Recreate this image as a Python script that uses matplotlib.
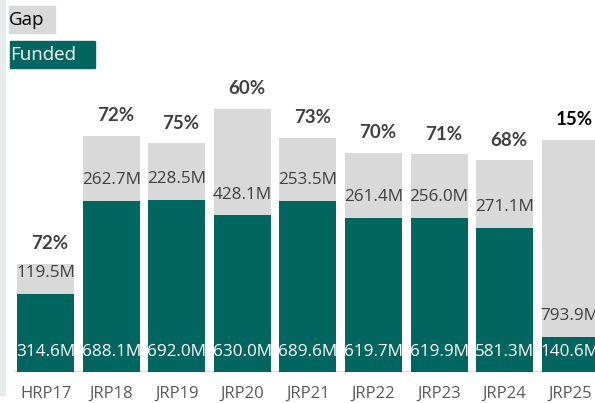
"""
Funded vs gap per response plan (HRP17 - JRP25).
"""

import matplotlib
matplotlib.use('Agg')
import matplotlib.pyplot as plt
from matplotlib.patches import Rectangle
import numpy as np


# plan labels and amounts (million USD)
plans = ['HRP17', 'JRP18', 'JRP19', 'JRP20', 'JRP21', 'JRP22', 'JRP23', 'JRP24', 'JRP25']
funded = [314.6, 688.1, 692.0, 630.0, 689.6, 619.7, 619.9, 581.3, 140.6]
gap = [119.5, 262.7, 228.5, 428.1, 253.5, 261.4, 256.0, 271.1, 793.9]
pct_labels = ['72%', '72%', '75%', '60%', '73%', '70%', '71%', '68%', '15%']

TEAL = '#00665F'
GREY = '#D9D9D9'
TEXT = '#404040'

plt.rcParams['font.family'] = ['Open Sans', 'DejaVu Sans']


def plot_chart(output_path='out.png'):
    fig = plt.figure(figsize=(5.95, 4.03), dpi=100)
    # plot area: baseline sits ~31px above the bottom edge
    ax = fig.add_axes([0, 31 / 403, 1, 372 / 403])

    x = np.arange(len(plans))
    width = 0.87

    ax.bar(x, funded, width, color=TEAL, zorder=2)
    ax.bar(x, gap, width, bottom=funded, color=GREY, zorder=2)

    ax.set_xlim(-0.70, 8.38)
    ax.set_ylim(0, 1497)

    # value labels, anchored near the base of each segment
    for i in range(len(plans)):
        ax.annotate(f'{funded[i]:.1f}M', (x[i], 0), xytext=(0, 14.5),
                    textcoords='offset points', ha='center', va='center',
                    color='white', fontsize=12.3, zorder=3)
        ax.annotate(f'{gap[i]:.1f}M', (x[i], funded[i]), xytext=(0, 15),
                    textcoords='offset points', ha='center', va='center',
                    color=TEXT, fontsize=12.3, zorder=3)
        last = i == len(plans) - 1
        ax.annotate(pct_labels[i], (x[i], funded[i] + gap[i]), xytext=(3, 14.5),
                    textcoords='offset points', ha='center', va='center',
                    color='black' if last else TEXT, fontsize=13.5,
                    fontweight='bold', family=['Lato', 'DejaVu Sans'], zorder=3)

    # baseline
    ax.axhline(0, xmin=15 / 595, xmax=1, color=GREY, lw=1.5, zorder=1)

    ax.set_xticks(x)
    ax.set_xticklabels(plans, fontsize=12, color='#595959')
    ax.tick_params(axis='x', length=0, pad=10)
    ax.set_yticks([])
    for side in ax.spines.values():
        side.set_visible(False)
    ax.patch.set_alpha(0)

    # thin panel strip on the left
    fig.patches.append(Rectangle((0, 8 / 403), 5 / 595, 395 / 403,
                                 transform=fig.transFigure, color='#E6ECEC', zorder=0))

    # legend boxes
    fig.patches.append(Rectangle((9 / 595, 1 - 33 / 403), 46 / 595, 27 / 403,
                                 transform=fig.transFigure, color=GREY, zorder=0))
    fig.patches.append(Rectangle((10 / 595, 1 - 68 / 403), 85 / 595, 27 / 403,
                                 transform=fig.transFigure, color=TEAL, zorder=0))
    fig.text(9 / 595, 1 - 20 / 403, 'Gap', fontsize=13.5, color='black', va='center')
    fig.text(10 / 595, 1 - 55 / 403, 'Funded', fontsize=13.5, color='white', va='center')

    fig.savefig(output_path, dpi=100)
    print(f"Plot saved to {output_path}")


if __name__ == '__main__':
    plot_chart()
